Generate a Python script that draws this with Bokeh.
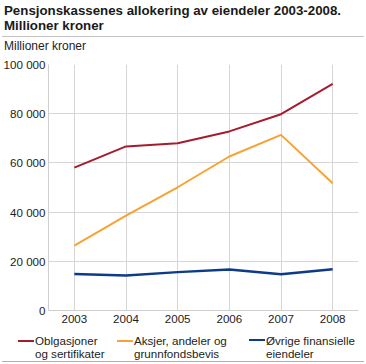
from bokeh.plotting import figure
from bokeh.layouts import column
from bokeh.models import Range1d, FixedTicker, Div
from bokeh.embed import file_html
from bokeh.resources import INLINE

years = [2003, 2004, 2005, 2006, 2007, 2008]
obligasjoner = [58100, 66700, 68000, 72800, 79800, 92100]
aksjer = [26400, 38600, 50100, 62600, 71400, 51700]
ovrige = [14800, 14200, 15600, 16700, 14700, 16800]

y_ticks = [0, 20000, 40000, 60000, 80000, 100000]
y_tick_labels = ["0", "20 000", "40 000", "60 000", "80 000", "100 000"]

series_names = [["Oblgasjoner", "og sertifikater"],
                ["Aksjer, andeler og", "grunnfondsbevis"],
                ["Øvrige finansielle", "eiendeler"]]
colors = ["#a51c2c", "#f7a333", "#0e3a8a"]
widths = [2, 2, 2.5]

title1 = "Pensjonskassenes allokering av eiendeler 2003-2008."
title2 = "Millioner kroner"
unit_label = "Millioner kroner"

FONT = "Liberation Sans"
FONT_CSS = "'Liberation Sans', Arial, sans-serif"
TXT = "#222222"
W = 366
HEAD_H, MAIN_H, FOOT_H = 56, 278, 30

# ---- header (HTML)
head_html = (
    f'<div style="position:relative;width:{W}px;height:{HEAD_H}px;font-family:{FONT_CSS};">'
    f'<div style="position:absolute;left:4px;top:2.5px;white-space:nowrap;font-weight:bold;'
    f'font-size:13.3px;line-height:15.7px;color:#1a1a1a;">{title1}<br>{title2}</div>'
    f'<div style="position:absolute;left:2px;top:36px;width:362px;height:0;'
    f'border-top:1px solid #c4c4c4;"></div>'
    f'<div style="position:absolute;left:4px;top:38.8px;white-space:nowrap;font-size:12px;'
    f'line-height:14px;color:{TXT};">{unit_label}</div>'
    f'</div>'
)
head = Div(text=head_html, width=W, height=HEAD_H, margin=0)

# ---- main chart
p = figure(width=W, height=MAIN_H, output_backend="svg", toolbar_location=None,
           x_range=Range1d(2002.5, 2008.5), y_range=Range1d(0, 100000),
           min_border_left=46, min_border_right=8, min_border_top=8, min_border_bottom=24,
           margin=0)
p.outline_line_color = None
p.background_fill_color = "white"
p.border_fill_color = "white"
p.xaxis.ticker = FixedTicker(ticks=years)
p.yaxis.ticker = FixedTicker(ticks=y_ticks)
p.yaxis.major_label_overrides = {t: s for t, s in zip(y_ticks, y_tick_labels)}
p.xaxis.major_label_overrides = {y: str(y) for y in years}
for ax in (p.xaxis, p.yaxis):
    ax.major_tick_out = 0
    ax.major_tick_in = 0
    ax.minor_tick_out = 0
    ax.minor_tick_in = 0
    ax.axis_line_color = "#cfcfcf"
    ax.major_label_text_font = FONT
    ax.major_label_text_font_size = "11.6px"
    ax.major_label_text_color = TXT
p.yaxis.major_label_standoff = 3
p.xaxis.major_label_standoff = 4
p.xgrid.ticker = FixedTicker(ticks=years)
p.ygrid.ticker = FixedTicker(ticks=y_ticks)
p.xgrid.grid_line_color = "#d6d6d6"
p.ygrid.grid_line_color = "#d6d6d6"

for vals, c, w in zip([obligasjoner, aksjer, ovrige], colors, widths):
    p.line(years, vals, line_color=c, line_width=w)

# ---- footer legend (HTML)
sw_x = [18, 117, 249]
items = ""
for (n1, n2), c, w, x0 in zip(series_names, colors, widths, sw_x):
    items += (
        f'<div style="position:absolute;left:{x0}px;top:{6.7 - w / 2}px;width:16px;height:0;'
        f'border-top:{w}px solid {c};"></div>'
        f'<div style="position:absolute;left:{x0 + 17}px;top:0.2px;white-space:nowrap;font-size:11.6px;'
        f'line-height:13px;color:{TXT};">{n1}<br>{n2}</div>'
    )
foot_html = (
    f'<div style="position:relative;width:{W}px;height:{FOOT_H}px;font-family:{FONT_CSS};">'
    + items +
    f'<div style="position:absolute;left:2px;top:26.7px;width:362px;height:0;'
    f'border-top:1px solid #b0b0b0;"></div>'
    f'</div>'
)
foot = Div(text=foot_html, width=W, height=FOOT_H, margin=0)

layout = column(head, p, foot, spacing=0, margin=0)
open("out.html", "w").write(file_html(layout, INLINE))
